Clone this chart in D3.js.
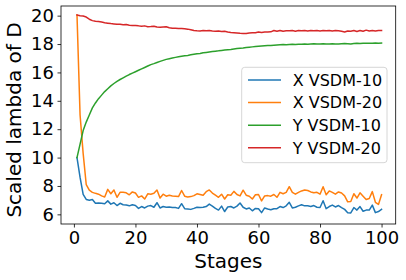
<!DOCTYPE html>
<html><head><meta charset="utf-8">
<script src="https://cdn.jsdelivr.net/npm/d3@7"></script>
<style>html,body{margin:0;padding:0;background:#fff;} svg{display:block;font-family:"DejaVu Sans",sans-serif;}</style>
</head><body>
<script>
const seriesNames = ["X VSDM-10", "X VSDM-20", "Y VSDM-10", "Y VSDM-20"];
const colors = ["#1f77b4", "#ff7f0e", "#2ca02c", "#d62728"];
const xTicks = [0, 20, 40, 60, 80, 100];
const yTicks = [6, 8, 10, 12, 14, 16, 18, 20];
const xVSDM10 = [10.0,8.6,7.4,7.05,7.0,7.05,6.78,6.8,6.78,6.75,
6.95,6.72,6.82,6.62,6.78,6.68,6.66,6.6,6.68,6.62,
6.42,6.55,6.45,6.58,6.62,6.5,6.82,6.45,6.55,6.5,
6.52,6.48,6.48,6.42,6.75,6.4,6.38,6.35,6.42,6.5,
6.48,6.5,6.55,6.72,6.58,6.42,6.3,6.58,6.2,6.52,
6.55,6.45,6.58,6.8,6.5,6.38,6.45,6.25,6.42,6.4,
6.12,6.45,6.38,6.32,6.4,6.4,6.55,6.48,6.6,6.85,
6.45,6.5,6.6,6.68,6.6,6.6,6.55,6.62,6.5,6.48,
6.96,6.4,6.55,6.65,6.52,6.62,6.48,6.35,6.12,6.1,
6.48,6.3,6.55,6.22,6.3,6.3,6.65,6.12,6.2,6.35];
const xVSDM20 = [20.05,13.0,10.3,8.1,7.7,7.55,7.48,7.42,7.3,7.22,
7.76,7.45,7.72,7.2,7.55,7.55,7.52,7.38,7.58,7.5,
7.2,7.3,7.08,7.45,7.42,7.48,7.72,7.15,7.42,7.28,
7.35,7.3,7.28,7.25,7.68,7.28,7.22,7.25,7.32,7.45,
7.4,7.35,7.6,7.72,7.5,7.35,7.2,7.42,7.08,7.38,
7.35,7.62,7.4,7.3,7.7,7.35,7.28,7.08,7.38,7.4,
6.95,7.3,7.32,7.28,7.4,7.2,7.55,7.45,7.55,7.95,
7.55,7.42,7.55,7.65,7.72,7.68,7.58,7.52,7.55,7.42,
7.95,7.38,7.65,7.55,7.42,7.58,7.5,7.3,6.88,6.9,
7.45,7.15,7.52,7.28,7.05,7.12,7.6,6.85,6.7,7.38];
const yVSDM10 = [10.0,10.95,11.9,12.5,13.0,13.5,13.85,14.15,14.4,14.65,
14.85,15.05,15.22,15.37,15.5,15.62,15.74,15.85,15.95,16.05,
16.15,16.25,16.35,16.45,16.55,16.62,16.7,16.78,16.85,16.92,
16.97,17.02,17.06,17.1,17.14,17.17,17.2,17.24,17.28,17.32,
17.34,17.38,17.41,17.44,17.47,17.5,17.52,17.55,17.58,17.6,
17.62,17.65,17.68,17.7,17.72,17.75,17.78,17.8,17.82,17.84,
17.86,17.88,17.9,17.9,17.92,17.94,17.95,17.96,17.95,17.97,
17.98,17.97,17.98,17.99,18.0,17.98,18.0,18.02,18.0,18.01,
18.02,18.0,18.01,18.02,18.01,18.0,18.02,18.03,18.02,18.0,
18.03,18.05,18.04,18.05,18.06,18.06,18.05,18.07,18.06,18.07];
const yVSDM20 = [20.05,20.0,19.97,19.9,19.75,19.65,19.6,19.58,19.55,19.5,
19.47,19.44,19.42,19.4,19.4,19.36,19.38,19.32,19.3,19.3,
19.28,19.25,19.28,19.22,19.23,19.25,19.2,19.18,19.2,19.22,
19.15,19.12,19.12,19.1,19.1,19.08,19.05,19.0,18.95,18.93,
18.92,18.95,18.93,18.95,18.92,18.9,18.92,18.88,18.9,18.85,
18.82,18.8,18.78,18.76,18.75,18.74,18.78,18.8,18.8,18.85,
18.82,18.85,18.84,18.86,18.95,18.9,18.95,18.9,18.93,18.93,
18.95,18.9,18.95,18.94,18.96,18.92,18.96,18.93,18.95,18.92,
18.95,18.93,18.96,18.92,18.95,18.93,18.9,18.85,18.92,18.9,
18.95,18.88,18.95,18.9,18.98,18.92,18.95,18.92,18.95,18.95];
const series = [xVSDM10, xVSDM20, yVSDM10, yVSDM20];

const W = 406, H = 280;
const L = 61, R = 395.7, T = 6, B = 224;
const svg = d3.select("body").append("svg").attr("width", W).attr("height", H);
const x = d3.scaleLinear().domain([-4.2, 104.6]).range([L, R]);
const y = d3.scaleLinear().domain([5.32, 20.68]).range([B, T]);

const line = d3.line().x((d, i) => x(i + 1)).y(d => y(d));
const g = svg.append("g");
series.forEach((s, k) => {
  g.append("path").datum(s).attr("d", line).attr("fill", "none")
    .attr("stroke", colors[k]).attr("stroke-width", 1.5)
    .attr("stroke-linejoin", "round").attr("stroke-linecap", "square");
});

const xa = svg.append("g").attr("transform", `translate(0,${B})`)
  .call(d3.axisBottom(x).tickValues(xTicks).tickSize(3.5).tickPadding(3.5).tickFormat(d3.format("d")));
const ya = svg.append("g").attr("transform", `translate(${L},0)`)
  .call(d3.axisLeft(y).tickValues(yTicks).tickSize(3.5).tickPadding(3.5).tickFormat(d3.format("d")));
[xa, ya].forEach(a => {
  a.select(".domain").remove();
  a.selectAll("line").attr("stroke", "#000").attr("stroke-width", 0.8);
  a.selectAll("text").attr("font-size", 18).attr("fill", "#000").attr("font-family", "DejaVu Sans");
});
svg.append("rect").attr("x", L).attr("y", T).attr("width", R - L).attr("height", B - T)
  .attr("fill", "none").attr("stroke", "#000").attr("stroke-width", 0.8);

svg.append("text").attr("x", (L + R) / 2).attr("y", 268).attr("text-anchor", "middle")
  .attr("font-size", 20).text("Stages");
svg.append("text").attr("transform", `translate(21,${(T + B) / 2 + 5}) rotate(-90)`)
  .attr("text-anchor", "middle").attr("font-size", 20).text("Scaled lambda of D");

const lg = svg.append("g");
lg.append("rect").attr("x", 241.7).attr("y", 67.3).attr("width", 145.3).attr("height", 95.4)
  .attr("rx", 3).attr("fill", "#fff").attr("fill-opacity", 0.8).attr("stroke", "#cccccc").attr("stroke-width", 0.8);
seriesNames.forEach((n, k) => {
  const cy = 80 + k * 22.57;
  lg.append("line").attr("x1", 248).attr("x2", 281).attr("y1", cy).attr("y2", cy)
    .attr("stroke", colors[k]).attr("stroke-width", 1.5);
  lg.append("text").attr("x", 292.7).attr("y", cy + 5.8).attr("font-size", 16).text(n);
});
</script>
</body></html>
